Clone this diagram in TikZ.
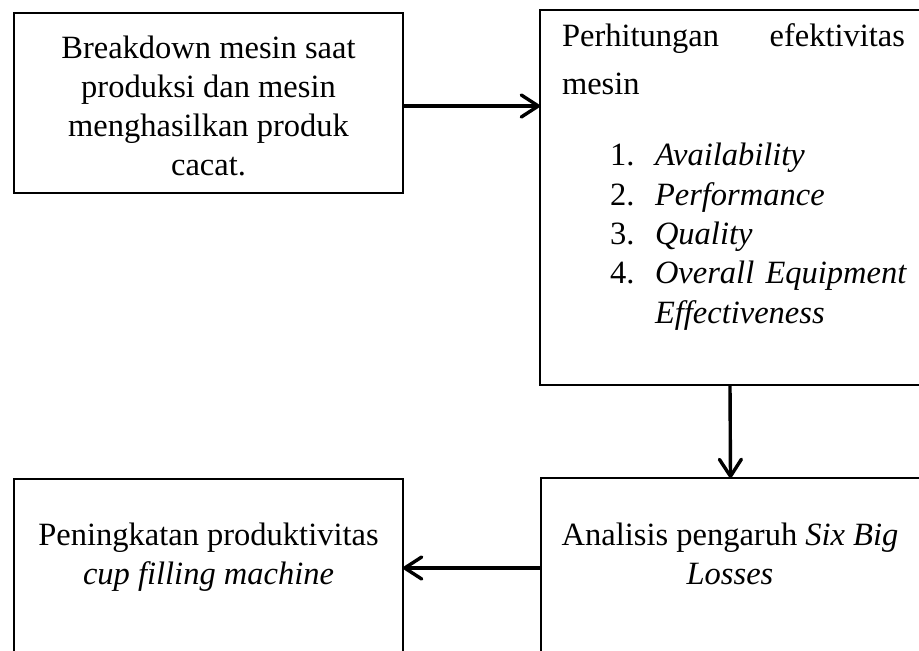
\documentclass[tikz,border=0pt]{standalone}
\usepackage{fontspec}
\setmainfont{Liberation Serif}
\usetikzlibrary{arrows.meta}
\begin{document}
\begin{tikzpicture}[x=1pt,y=-1pt,
  box/.style={draw, line width=2.6pt, inner sep=0pt, outer sep=0pt},
  txt/.style={inner sep=0pt, outer sep=0pt, font=\fontsize{32.5}{39.5}\selectfont},
  arr/.style={line width=3.4pt, -{Straight Barb[length=17pt,width=22pt,line width=3.4pt,line cap=round,line join=round]}}]
\useasboundingbox (0,0) rectangle (919,651);
\clip (0,0) rectangle (919,651);
% boxes
\node[box, minimum width=389pt, minimum height=180pt] (b1) at (208.5,103) {};
\node[box, minimum width=380pt, minimum height=375pt] (b2) at (730,197.5) {};
\node[box, minimum width=379pt, minimum height=182pt] (b3) at (730.5,569) {};
\node[box, minimum width=389pt, minimum height=181pt] (b4) at (208.5,569.5) {};
% box 1 text
\node[txt, anchor=base] (t1a) at (208.5,58) {Breakdown mesin saat};
\node[txt, anchor=base] (t1b) at (208.5,97) {produksi dan mesin};
\node[txt, anchor=base] (t1c) at (208.5,136) {menghasilkan produk};
\node[txt, anchor=base] (t1d) at (208.5,175) {cacat.};
% box 2 text
\node[txt, anchor=base west] (t2a) at (562,46) {\hbox to 343pt{Perhitungan\hfill efektivitas}};
\node[txt, anchor=base west] (t2b) at (562,94) {mesin};
\node[txt, anchor=base west] (n1) at (610,165) {1.};
\node[txt, anchor=base west] (i1) at (655,165) {\textit{Availability}};
\node[txt, anchor=base west] (n2) at (610,205) {2.};
\node[txt, anchor=base west] (i2) at (655,205) {\textit{Performance}};
\node[txt, anchor=base west] (n3) at (610,244) {3.};
\node[txt, anchor=base west] (i3) at (655,244) {\textit{Quality}};
\node[txt, anchor=base west] (n4) at (610,283) {4.};
\node[txt, anchor=base west] (i4) at (655,283) {\hbox to 252pt{\textit{Overall}\hfill\textit{Equipment}}};
\node[txt, anchor=base west] (i4b) at (655,323) {\textit{Effectiveness}};
% box 3 text
\node[txt, anchor=base] (t3a) at (730,545) {Analisis pengaruh \textit{Six Big}};
\node[txt, anchor=base] (t3b) at (730,584) {\textit{Losses}};
% box 4 text
\node[txt, anchor=base] (t4a) at (208.5,545) {Peningkatan produktivitas};
\node[txt, anchor=base] (t4b) at (208.5,584) {\textit{cup filling machine}};
% connectors
\draw[arr] ([yshift=-3pt]b1.east) -- ([yshift=-3pt]b1.east -| b2.west);
\draw[arr] (b2.south) -- (b3.north);
\draw[arr] ([yshift=1pt]b3.west) -- ([yshift=1pt]b3.west -| b4.east);
\end{tikzpicture}
\end{document}
